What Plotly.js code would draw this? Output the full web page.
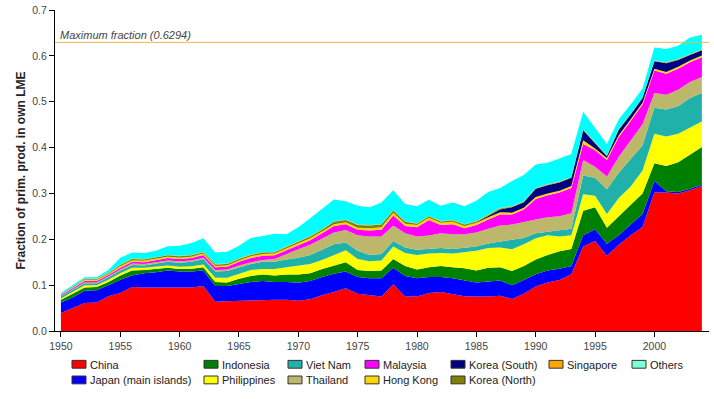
<!DOCTYPE html>
<html>
<head>
<meta charset="utf-8">
<script src="https://cdn.plot.ly/plotly-3.0.1.min.js"></script>
<style>html,body{margin:0;padding:0;background:#fff;}#chart{width:714px;height:399px;}</style>
</head>
<body>
<div id="chart"></div>
<script>
// Years 1950-2004
const years = [];
for (let y = 1950; y <= 2004; y++) years.push(y);

const china = [.039,.050,.061,.062,.076,.083,.096,.095,.095,.095,
  .095,.095,.098,.064,.065,.066,.067,.067,.068,.068,
  .066,.069,.078,.085,.093,.081,.078,.075,.102,.075,
  .075,.083,.085,.081,.076,.075,.075,.077,.070,.081,
  .097,.106,.111,.124,.184,.196,.164,.188,.209,.227,
  .302,.302,.300,.307,.316];
const japan = [.023,.023,.027,.027,.024,.029,.025,.031,.033,.037,
  .035,.035,.034,.034,.033,.037,.040,.042,.039,.039,
  .039,.040,.040,.040,.037,.037,.037,.040,.036,.045,
  .040,.035,.033,.034,.034,.031,.033,.033,.030,.030,
  .027,.026,.025,.018,.025,.026,.026,.021,.023,.028,
  .025,.003,.003,.003,.003];
const indonesia = [.006,.008,.007,.007,.007,.009,.011,.007,.007,.006,
  .005,.006,.007,.009,.008,.011,.013,.014,.014,.016,
  .018,.017,.017,.018,.020,.015,.016,.017,.019,.022,
  .019,.021,.024,.024,.027,.026,.030,.029,.031,.031,
  .032,.034,.038,.037,.053,.048,.035,.041,.043,.045,
  .039,.055,.065,.075,.082];
const philippines = [.003,.005,.005,.004,.005,.005,.006,.005,.005,.005,
  .005,.005,.006,.009,.010,.011,.013,.012,.014,.016,
  .020,.020,.020,.022,.026,.024,.021,.022,.027,.028,
  .032,.030,.028,.030,.035,.043,.043,.043,.047,.047,
  .046,.043,.032,.030,.036,.025,.030,.040,.040,.050,
  .064,.064,.062,.059,.056];
const vietnam = [.004,.003,.004,.004,.005,.006,.006,.005,.007,.008,
  .009,.010,.012,.014,.015,.014,.013,.016,.016,.017,
  .017,.020,.022,.024,.017,.018,.014,.014,.012,.012,
  .011,.010,.011,.010,.010,.009,.010,.013,.020,.014,
  .011,.007,.014,.014,.041,.039,.054,.055,.060,.055,
  .057,.059,.060,.064,.062];
const thailand = [.001,.002,.002,.002,.002,.002,.003,.003,.003,.003,
  .003,.003,.003,.003,.003,.004,.004,.004,.006,.012,
  .018,.022,.024,.026,.027,.034,.040,.038,.034,.031,
  .029,.029,.032,.032,.029,.031,.032,.035,.034,.035,
  .030,.032,.030,.034,.034,.024,.028,.035,.040,.046,
  .032,.032,.036,.035,.035];
const malaysia = [.002,.003,.003,.003,.003,.004,.004,.004,.004,.005,
  .005,.005,.006,.006,.006,.008,.009,.009,.008,.008,
  .009,.010,.012,.014,.013,.012,.013,.015,.022,.016,
  .020,.034,.018,.022,.013,.016,.020,.024,.022,.027,
  .045,.048,.052,.055,.035,.036,.036,.043,.043,.043,
  .049,.046,.046,.043,.043];
const hongkong = [.001,.001,.002,.002,.002,.003,.003,.003,.003,.003,
  .003,.003,.003,.003,.003,.003,.004,.004,.004,.004,
  .004,.004,.004,.004,.004,.004,.005,.005,.006,.005,
  .005,.005,.005,.005,.005,.005,.005,.005,.004,.004,
  .004,.004,.004,.004,.008,.004,.004,.004,.004,.004,
  .004,.004,.004,.004,.004];
const koreaSouth = [0,0,0,0,0,0,0,0,0,0,
  0,0,0,0,0,0,0,0,0,0,
  0,0,0,0,0,0,0,0,0,0,
  0,0,0,0,0,.001,.003,.006,.012,.012,
  .018,.018,.018,.018,.022,.012,.004,.012,.010,.010,
  .016,.019,.015,.012,.011];
const koreaNorth = [.001,.001,.002,.002,.002,.003,.003,.003,.003,.003,
  .003,.003,.003,.003,.003,.003,.003,.003,.003,.003,
  .004,.004,.004,.005,.005,.006,.006,.006,.005,.004,
  .003,.003,.003,.003,.003,.002,.002,.002,.001,.001,
  .001,.001,.001,.001,.001,.001,.001,.001,.001,.001,
  .001,.001,.001,.001,.001];
const singapore = [0,0,.001,.001,.001,.001,.001,.001,.001,.001,
  .001,.001,.001,.001,.001,.001,.001,.001,.001,.001,
  .001,.001,.001,.001,.001,.001,.001,.001,.001,.001,
  .001,.001,.001,.001,.001,.001,.001,.001,.001,.001,
  .001,.001,.001,.001,.001,.001,.001,.001,.001,.001,
  .001,.001,.001,.001,.001];
const others = [.003,.004,.003,.003,.006,.015,.013,.013,.014,.019,
  .022,.026,.029,.025,.026,.028,.036,.035,.039,.027,
  .030,.039,.045,.048,.040,.041,.039,.047,.043,.038,
  .037,.035,.033,.038,.039,.044,.049,.044,.055,.057,
  .051,.047,.050,.050,.038,.032,.025,.021,.020,.019,
  .028,.029,.029,.036,.032];

const maxFraction = 0.6294;

const seriesNames = ['China','Japan (main islands)','Indonesia','Philippines','Viet Nam','Thailand',
  'Malaysia','Hong Kong','Korea (South)','Korea (North)','Singapore','Others'];
const seriesValues = [china, japan, indonesia, philippines, vietnam, thailand,
  malaysia, hongkong, koreaSouth, koreaNorth, singapore, others];
const areaColors = ['#ff0000','#0000ff','#008000','#ffff00','#20b2aa','#bdb76b',
  '#ff00ff','#ffd700','#000080','#808000','#ffa500','#00ffff'];
const swatchColors = ['#ff0000','#0000ff','#008000','#ffff00','#20b2aa','#bdb76b',
  '#ff00ff','#ffd700','#000080','#808000','#ffa500','#7fffd4'];

// legend placement: text left edge (px) and row
const legendTextX = [90, 90, 222, 222, 306, 306, 383, 383, 469, 469, 567, 650];
const legendRow =   [0, 1, 0, 1, 0, 1, 0, 1, 0, 1, 0, 0];

const L = 55, R = 5, T = 10, B = 61, W = 714, H = 399;
const pw = W - L - R, ph = H - T - B;
const rowY = [372, 388];
const px2x = p => (p - L) / pw;
const px2y = p => (T + ph - p) / ph;

const traces = [];
seriesNames.forEach((n, i) => {
  traces.push({
    x: years, y: seriesValues[i], name: n, type: 'scatter', mode: 'lines',
    stackgroup: 'one', line: {width: 0, color: areaColors[i]},
    fillcolor: areaColors[i], showlegend: false, hoverinfo: 'x+y+name'
  });
});

const layoutLegends = {};
const swatchShapes = [];
seriesNames.forEach((n, i) => {
  const key = i === 0 ? 'legend' : 'legend' + (i + 1);
  traces.push({
    x: [null], y: [null], name: n, type: 'scatter', mode: 'markers',
    marker: {symbol: 'square', size: 0, color: 'rgba(0,0,0,0)', line: {width: 0, color: 'rgba(0,0,0,0)'}},
    showlegend: true, legend: key, hoverinfo: 'skip'
  });
  layoutLegends[key] = {
    x: px2x(legendTextX[i] - 40), y: px2y(rowY[legendRow[i]]),
    xanchor: 'left', yanchor: 'middle',
    bgcolor: 'rgba(0,0,0,0)', borderwidth: 0,
    font: {family: 'Liberation Sans, Arial, sans-serif', size: 11, color: '#222'}
  };
  swatchShapes.push({
    type: 'rect', xref: 'paper', yref: 'paper',
    x0: px2x(legendTextX[i] - 18), x1: px2x(legendTextX[i] - 4),
    y0: px2y(rowY[legendRow[i]] + 4), y1: px2y(rowY[legendRow[i]] - 4),
    fillcolor: swatchColors[i], line: {color: '#333', width: 1}, layer: 'above'
  });
});

const layout = Object.assign({
  width: W, height: H,
  margin: {l: L, r: R, t: T, b: B},
  paper_bgcolor: '#fff', plot_bgcolor: '#fff',
  font: {family: 'Liberation Sans, Arial, sans-serif', size: 10, color: '#444'},
  xaxis: {
    range: [1949.5, 2004.6], tickvals: [1950,1955,1960,1965,1970,1975,1980,1985,1990,1995,2000],
    ticks: 'outside', ticklen: 5, tickcolor: '#000', showline: true, linecolor: '#000', linewidth: 1,
    showgrid: false, zeroline: false, tickfont: {size: 10.5, color: '#444'}
  },
  yaxis: {
    range: [0, 0.7], dtick: 0.1, tick0: 0, tickformat: '.1f',
    ticks: 'outside', ticklen: 5, tickcolor: '#000', showline: true, linecolor: '#000', linewidth: 1,
    showgrid: false, zeroline: false, tickfont: {size: 10.5, color: '#444'},
    title: {text: '<b>Fraction of prim. prod. in own LME</b>', font: {size: 12, color: '#222'}, standoff: 4}
  },
  shapes: [{
    type: 'line', xref: 'paper', x0: 0, x1: 1, yref: 'y', y0: maxFraction, y1: maxFraction,
    line: {color: '#f2b544', width: 1}
  }].concat(swatchShapes),
  annotations: [{
    xref: 'paper', x: 3 / pw, xanchor: 'left', yref: 'y', y: maxFraction, yanchor: 'bottom',
    text: '<i>Maximum fraction (' + maxFraction + ')</i>', showarrow: false,
    font: {size: 11, color: '#444'}, yshift: -1
  }]
}, layoutLegends);

Plotly.newPlot('chart', traces, layout, {displayModeBar: false, staticPlot: true});
</script>
</body>
</html>
